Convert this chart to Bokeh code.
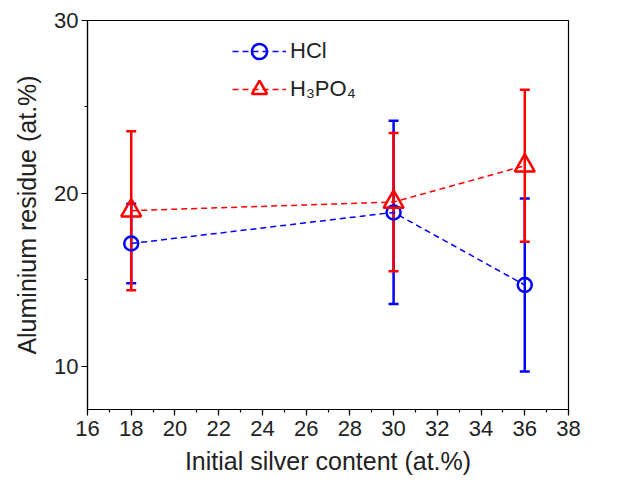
from bokeh.plotting import figure
from bokeh.models import ColumnDataSource, Whisker, TeeHead, FixedTicker, Legend, LegendItem, Range1d
from bokeh.embed import file_html
from bokeh.resources import INLINE

x_vals = [18, 30, 36]
hcl_mean = [17.1, 18.9, 14.7]
hcl_err = [2.3, 5.3, 5.0]
h3po4_mean = [19.0, 19.5, 21.6]
h3po4_err = [4.6, 4.0, 4.4]

x_ticks = [16, 18, 20, 22, 24, 26, 28, 30, 32, 34, 36, 38]
y_ticks = [10, 20, 30]

FONT = "Liberation Sans"

p = figure(frame_width=481, frame_height=389, output_backend="svg", toolbar_location=None,
           x_range=Range1d(16, 38), y_range=Range1d(7.5, 30),
           min_border_left=87, min_border_right=64, min_border_top=20, min_border_bottom=78)
p.width = 632
p.height = 487
p.grid.visible = False
p.outline_line_color = "black"
p.outline_line_width = 1.2
p.background_fill_color = "white"
p.border_fill_color = "white"

for ax in (p.xaxis[0], p.yaxis[0]):
    ax.major_label_text_font = FONT
    ax.major_label_text_font_size = "22px"
    ax.major_label_text_color = "#222222"
    ax.axis_label_text_font = FONT
    ax.axis_label_text_font_size = "25px"
    ax.axis_label_text_font_style = "normal"
    ax.axis_label_text_color = "#222222"
    ax.major_tick_in = 0
    ax.major_tick_out = 6
    ax.minor_tick_in = 0
    ax.minor_tick_out = 3
    ax.axis_line_width = 1.2
    ax.major_tick_line_width = 1.2
    ax.minor_tick_line_width = 1.2

p.xaxis.axis_label = "Initial silver content (at.%)"
p.yaxis.axis_label = "Aluminium residue (at.%)"
p.xaxis.ticker = FixedTicker(ticks=x_ticks, minor_ticks=list(range(16, 39)))
p.yaxis.ticker = FixedTicker(ticks=y_ticks, minor_ticks=[15, 25])
p.xaxis.major_label_standoff = 5
p.yaxis.major_label_standoff = 3
p.xaxis.axis_label_standoff = 8
p.yaxis.axis_label_standoff = 10

src_h = ColumnDataSource(dict(x=x_vals, y=hcl_mean,
                              lo=[m - e for m, e in zip(hcl_mean, hcl_err)],
                              hi=[m + e for m, e in zip(hcl_mean, hcl_err)]))
src_p = ColumnDataSource(dict(x=x_vals, y=h3po4_mean,
                              lo=[m - e for m, e in zip(h3po4_mean, h3po4_err)],
                              hi=[m + e for m, e in zip(h3po4_mean, h3po4_err)]))

blue = "#0000ff"
red = "#ff0000"

wh = Whisker(source=src_h, base="x", lower="lo", upper="hi", line_color=blue, line_width=2.5,
             upper_head=TeeHead(size=10, line_color=blue, line_width=2.5),
             lower_head=TeeHead(size=10, line_color=blue, line_width=2.5))
p.add_layout(wh)
wp = Whisker(source=src_p, base="x", lower="lo", upper="hi", line_color=red, line_width=2.5,
             upper_head=TeeHead(size=10, line_color=red, line_width=2.5),
             lower_head=TeeHead(size=10, line_color=red, line_width=2.5))
p.add_layout(wp)

lh = p.line("x", "y", source=src_h, line_color=blue, line_width=1.5, line_dash="6 4")
mh = p.scatter("x", "y", source=src_h, marker="circle", size=14, fill_color="white", fill_alpha=0,
               line_color=blue, line_width=2.5)
lp = p.line("x", "y", source=src_p, line_color=red, line_width=1.5, line_dash="6 4")
mp = p.scatter("x", "y", source=src_p, marker="triangle", size=20, fill_color="white", fill_alpha=0,
               line_color=red, line_width=2.5)

legend = Legend(items=[LegendItem(label="HCl", renderers=[lh, mh]),
                       LegendItem(label="H₃PO₄", renderers=[lp, mp])],
                location=(145, 301), glyph_width=54, glyph_height=38, label_height=38,
                spacing=-7, padding=0, margin=0, label_standoff=4,
                label_text_font=FONT, label_text_font_size="22px", label_text_color="#222222",
                border_line_color=None, background_fill_alpha=0)
p.add_layout(legend)

open("out.html", "w").write(file_html(p, INLINE))
